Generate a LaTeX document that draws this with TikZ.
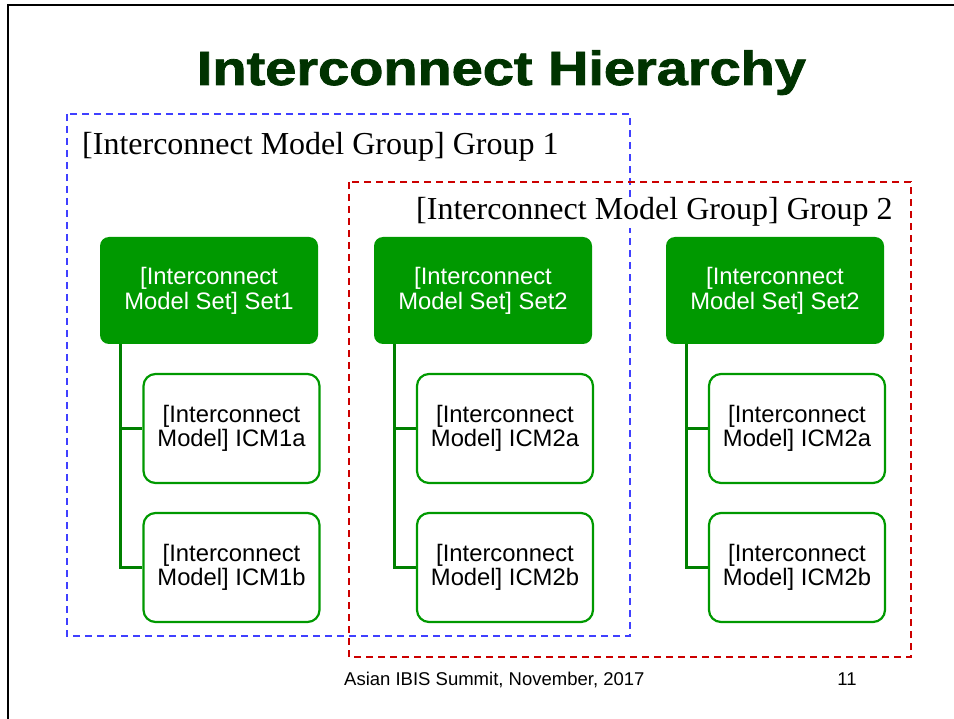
\documentclass[tikz,border=0pt]{standalone}
\usepackage{fontspec}
\setmainfont{Liberation Serif}
\setsansfont{Liberation Sans}
\newfontfamily\titlefont{Liberation Sans Bold}[FakeBold=1.6]
\usepackage{tikz}

\definecolor{titlegreen}{RGB}{0,51,0}
\definecolor{setgreen}{RGB}{0,153,0}
\definecolor{linegreen}{RGB}{0,128,0}
\definecolor{grpblue}{RGB}{64,64,255}
\definecolor{grpred}{RGB}{204,0,0}

\begin{document}
\begin{tikzpicture}[x=1pt, y=-1pt,
    setbox/.style={rectangle, rounded corners=9pt, fill=setgreen, text=white,
        minimum width=218pt, minimum height=107pt, align=center,
        font=\sffamily\fontsize{23.8}{25}\selectfont},
    icmbox/.style={rectangle, rounded corners=12pt, draw=setgreen, line width=2.2pt,
        fill=white, minimum width=176pt, minimum height=109pt, align=center,
        font=\sffamily\fontsize{23.8}{24.5}\selectfont},
    tree/.style={draw=linegreen, line width=3pt},
    grpline/.style={line width=1.8pt, dash pattern=on 7pt off 5pt},
    grplabel/.style={anchor=base west, fill=white, inner sep=1pt,
        font=\rmfamily\fontsize{32}{34}\selectfont}]
    \useasboundingbox (0,0) rectangle (954,719);

    % moldura do slide
    \draw[line width=2.5pt] (8,719) -- (8,5) -- (954,5);

    % titulo
    \node[anchor=base, xscale=1.165, inner sep=0pt, text=titlegreen,
        font=\titlefont\fontsize{48}{52}\selectfont]
        (title) at (501.5,85) {Interconnect Hierarchy};

    % grupos
    \draw[grpline, grpblue] (67,114) rectangle (630,636);
    \draw[grpline, grpred] (349,182) rectangle (911,657);
    \node[grplabel] (grp1) at (81,155) {[Interconnect Model Group] Group 1};
    \node[grplabel] (grp2) at (415,220) {[Interconnect Model Group] Group 2};

    % model sets
    \node[setbox] (set1) at (209,290.5) {[Interconnect\\Model Set] Set1};
    \node[setbox] (set2) at (483,290.5) {[Interconnect\\Model Set] Set2};
    \node[setbox] (set3) at (775,290.5) {[Interconnect\\Model Set] Set2};

    % models
    \node[icmbox] (icm1a) at (231.5,428.5) {[Interconnect\\Model] ICM1a};
    \node[icmbox] (icm1b) at (231.5,567.5) {[Interconnect\\Model] ICM1b};
    \node[icmbox] (icm2a) at (505,428.5) {[Interconnect\\Model] ICM2a};
    \node[icmbox] (icm2b) at (505,567.5) {[Interconnect\\Model] ICM2b};
    \node[icmbox] (icm3a) at (797,428.5) {[Interconnect\\Model] ICM2a};
    \node[icmbox] (icm3b) at (797,567.5) {[Interconnect\\Model] ICM2b};

    % ligacoes
    \foreach \s/\a/\b in {set1/icm1a/icm1b, set2/icm2a/icm2b, set3/icm3a/icm3b} {
        \draw[tree] ([xshift=21pt]\s.south west) |- (\a.west);
        \draw[tree] ([xshift=21pt]\s.south west) |- (\b.west);
    }

    % rodape
    \node[anchor=base west, inner sep=0pt, font=\sffamily\fontsize{18.5}{20}\selectfont]
        (foot) at (344,685) {Asian IBIS Summit, November, 2017};
    \node[anchor=base, inner sep=0pt, font=\sffamily\fontsize{18.5}{20}\selectfont]
        (page) at (847,685) {11};
\end{tikzpicture}
\end{document}
